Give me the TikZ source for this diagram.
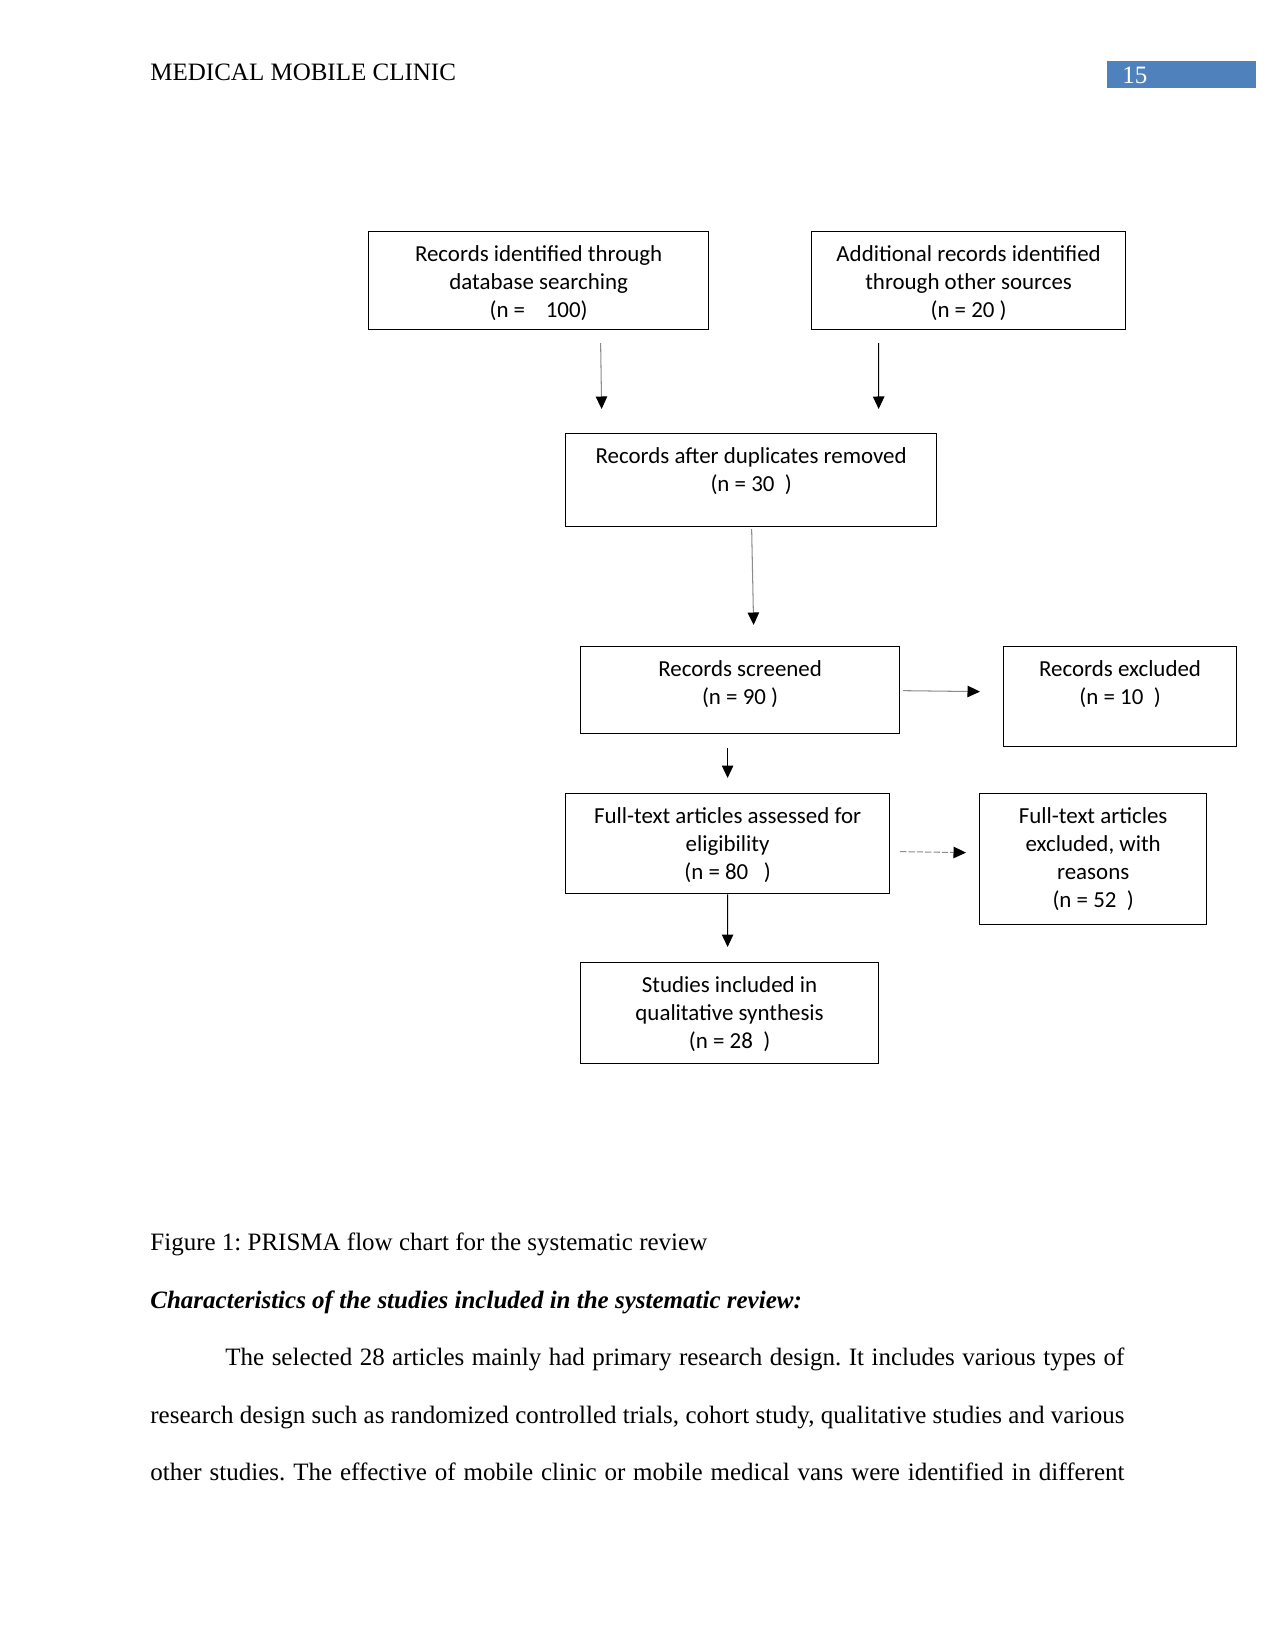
\documentclass[tikz,border=0pt]{standalone}
\usepackage{fontspec}
\setmainfont{Liberation Serif}
\newfontfamily\boxfont{Carlito}
\usetikzlibrary{arrows.meta,calc}
\definecolor{pgblue}{HTML}{4F81BD}
\frenchspacing
\newcommand\bxt[3]{\parbox[t][#2][t]{#1}{\centering\boxfont\fontsize{11}{13.4}\selectfont\rule{0pt}{14.4pt}#3}}
\begin{document}
\begin{tikzpicture}[x=0.48pt,y=-0.48pt,
  box/.style={draw, line width=0.6pt, inner sep=0pt, anchor=north west},
  arr/.style={-{Triangle[length=6pt,width=5.5pt,color=black,fill=black]}, line width=0.5pt},
  lgray/.style={draw=black!45},
  body/.style={anchor=base west, inner sep=0pt, font=\fontsize{12}{14}\selectfont}]
\useasboundingbox (0,0) rectangle (1275,1650);
\fill[white] (0,0) rectangle (1275,1650);

% header
\node[body] (hdr) at (150,81) {MEDICAL MOBILE CLINIC};
\node[fill=pgblue, anchor=north west, inner sep=0pt, minimum width=71.5pt, minimum height=13pt] (pnbox) at (1107,61) {};
\node[body, text=white] (pn) at (1122,84) {15};

% boxes
\node[box] (b1) at (368,231) {\bxt{163.2pt}{47pt}{Records identified through\\database searching\\(n = \ \ \ 100)}};
\node[box] (b2) at (811,231) {\bxt{150.7pt}{47pt}{Additional records identified\\through other sources\\(n = 20 )}};
\node[box] (b3) at (565,433) {\bxt{178.1pt}{44.6pt}{Records after duplicates removed\\(n = 30 \ )}};
\node[box] (b4) at (580,646) {\bxt{153.1pt}{41.8pt}{Records screened\\(n = 90 )}};
\node[box] (b5) at (1003,646) {\bxt{111.8pt}{48pt}{Records excluded\\(n = 10 \ )}};
\node[box] (b6) at (565,793) {\bxt{155.5pt}{48pt}{Full-text articles assessed for\\eligibility\\(n = 80 \ \ )}};
\node[box] (b7) at (979,793) {\bxt{109pt}{62.9pt}{Full-text articles\\excluded, with\\reasons\\(n = 52 \ )}};
\node[box] (b8) at (580,962) {\bxt{143pt}{48.5pt}{Studies included in\\qualitative synthesis\\(n = 28 \ )}};

% connectors
\draw[arr, lgray] ($(b1.south)+(62,13)$) -- ($(b3.north)+(-149.5,-24)$);
\draw[arr] ($(b2.south)+(-90,13)$) -- ($(b3.north)+(127.5,-24)$);
\draw[arr, lgray] ($(b3.south)+(0.5,2)$) -- ($(b4.north)+(13.5,-21)$);
\draw[arr, lgray] ($(b4.east)+(3,0.5)$) -- ($(b5.west)+(-23,-5)$);
\draw[arr] ($(b4.south)+(-12.5,14)$) -- ($(b6.north)+(0,-15)$);
\draw[arr, lgray, dash pattern=on 3pt off 1pt] ($(b6.east)+(10,8)$) -- ($(b7.west)+(-13,-6.5)$);
\draw[arr] (b6.south) -- ($(b8.north)+(-2,-15)$);

% text below
\node[body] (cap) at (150,1250) {Figure 1: PRISMA flow chart for the systematic review};
\node[body] (head) at (150,1308) {\textbf{\textit{Characteristics of the studies included in the systematic review:}}};
\node[body] (p1) at (225,1365) {\makebox[431.5pt][s]{The selected 28 articles mainly had primary research design. It includes various types of}};
\node[body] (p2) at (150,1423) {\makebox[467.5pt][s]{research design such as randomized controlled trials, cohort study, qualitative studies and various}};
\node[body] (p3) at (150,1480) {\makebox[467.5pt][s]{other studies. The effective of mobile clinic or mobile medical vans were identified in different}};
\end{tikzpicture}
\end{document}
